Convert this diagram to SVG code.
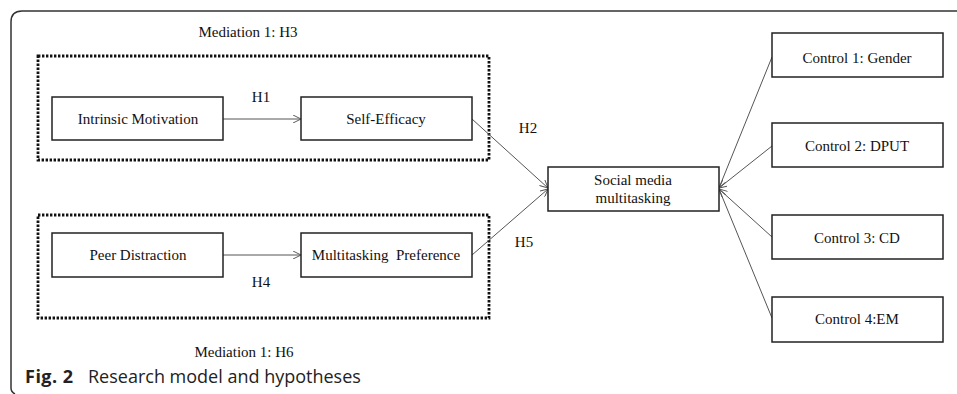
<svg xmlns="http://www.w3.org/2000/svg" width="957" height="394" viewBox="0 0 957 394">
<defs>
<style>
.t{font-family:"Liberation Serif","Times New Roman",serif;font-size:15px;fill:#111;text-anchor:middle}
.box{fill:#fff;stroke:#222;stroke-width:1.5}
.dot{fill:none;stroke:#111;stroke-width:2.8;stroke-dasharray:2.4 1.6}
.ln{fill:none;stroke:#555;stroke-width:1}
.cap{font-family:"Open Sans","Noto Sans",sans-serif;font-size:18px;fill:#222}
</style>
<marker id="ah" viewBox="0 0 10 10" refX="10" refY="5" markerWidth="8" markerHeight="8" markerUnits="userSpaceOnUse" orient="auto">
<path d="M0,0 L10,5 L0,10" fill="none" stroke="#555" stroke-width="1.2"/>
</marker>
</defs>
<rect width="957" height="394" fill="#fff"/>
<path d="M15,394 Q11,392 11,388 L11,22 Q11,11 22,11 L957,11" fill="none" stroke="#333" stroke-width="1.5"/>

<g id="mediation1">
<rect class="dot" x="38" y="56" width="451" height="104"/>
<text class="t" x="248" y="37">Mediation 1: H3</text>
</g>
<g id="mediation2">
<rect class="dot" x="38" y="215" width="451" height="103"/>
<text class="t" x="244" y="357">Mediation 1: H6</text>
</g>

<g id="connectors">
<line class="ln" x1="223" y1="119" x2="301" y2="119" marker-end="url(#ah)"/>
<line class="ln" x1="223" y1="255" x2="301" y2="255" marker-end="url(#ah)"/>
<line class="ln" x1="472" y1="119" x2="548" y2="188" marker-end="url(#ah)"/>
<line class="ln" x1="472" y1="255" x2="548" y2="189" marker-end="url(#ah)"/>
<line class="ln" x1="772" y1="57" x2="719" y2="188" marker-end="url(#ah)"/>
<line class="ln" x1="772" y1="146" x2="719" y2="188" marker-end="url(#ah)"/>
<line class="ln" x1="772" y1="237" x2="719" y2="189" marker-end="url(#ah)"/>
<line class="ln" x1="772" y1="318" x2="719" y2="189" marker-end="url(#ah)"/>
<text class="t" x="261" y="102">H1</text>
<text class="t" x="261" y="287">H4</text>
<text class="t" x="528" y="133">H2</text>
<text class="t" x="524" y="247">H5</text>
</g>

<g id="intrinsic">
<rect class="box" x="52" y="97" width="171" height="43"/>
<text class="t" x="138" y="124">Intrinsic Motivation</text>
</g>
<g id="selfefficacy">
<rect class="box" x="301" y="97" width="171" height="43"/>
<text class="t" x="386" y="124">Self-Efficacy</text>
</g>
<g id="peer">
<rect class="box" x="52" y="233" width="171" height="44"/>
<text class="t" x="138" y="260">Peer Distraction</text>
</g>
<g id="multipref">
<rect class="box" x="301" y="233" width="171" height="44"/>
<text class="t" x="386" y="260" xml:space="preserve">Multitasking  Preference</text>
</g>
<g id="smm">
<rect class="box" x="548" y="167" width="171" height="44"/>
<text class="t" x="633" y="185">Social media</text>
<text class="t" x="633" y="203">multitasking</text>
</g>
<g id="control1">
<rect class="box" x="772" y="33" width="171" height="44"/>
<text class="t" x="857" y="63">Control 1: Gender</text>
</g>
<g id="control2">
<rect class="box" x="772" y="123" width="171" height="44"/>
<text class="t" x="857" y="151">Control 2: DPUT</text>
</g>
<g id="control3">
<rect class="box" x="772" y="215" width="171" height="44"/>
<text class="t" x="857" y="243">Control 3: CD</text>
</g>
<g id="control4">
<rect class="box" x="772" y="297" width="171" height="45"/>
<text class="t" x="857" y="324">Control 4:EM</text>
</g>

<text class="cap" x="25" y="383"><tspan font-weight="bold" letter-spacing="0.5">Fig. 2</tspan><tspan x="88">Research model and hypotheses</tspan></text>
</svg>
